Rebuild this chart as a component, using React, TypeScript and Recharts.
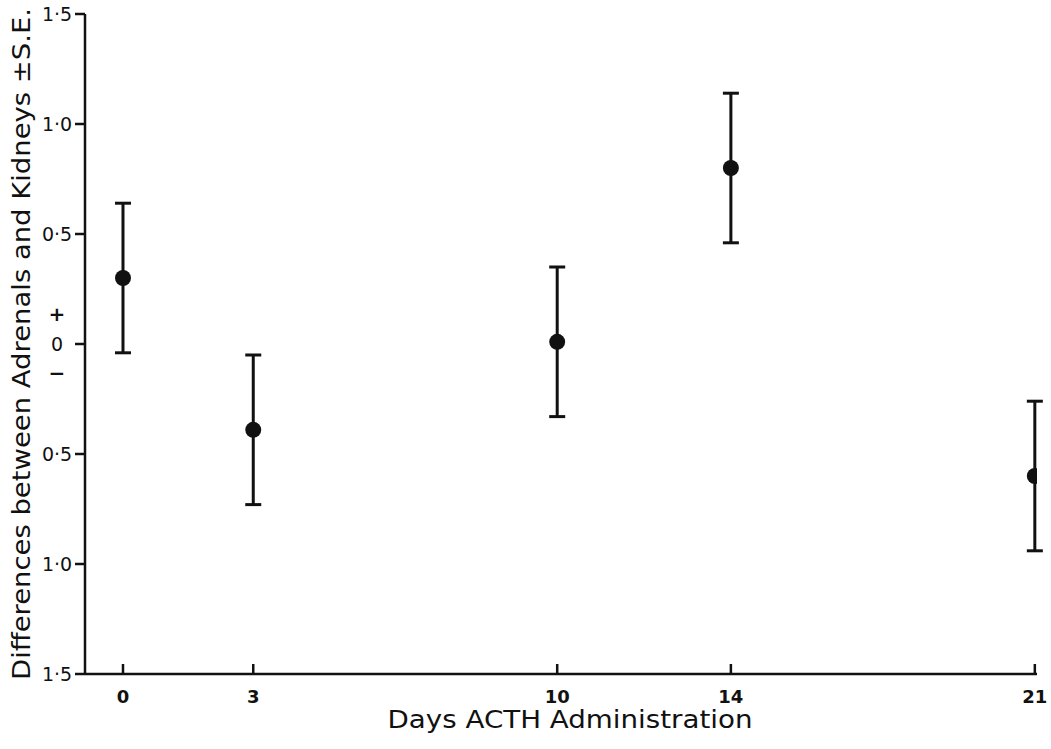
import React from "react";
import { ScatterChart, Scatter, XAxis, YAxis, ErrorBar } from "recharts";

const days = [0, 3, 10, 14, 21];
const means = [0.3, -0.39, 0.01, 0.8, -0.6];
const stdErrors = [0.34, 0.34, 0.34, 0.34, 0.34];
const xTicks = [0, 3, 10, 14, 21];
const yTicks = [-1.5, -1, -0.5, 0, 0.5, 1, 1.5];
const xTitle = "Days ACTH Administration";
const yTitle = "Differences between Adrenals and Kidneys \u00B1S.E.";

const data = days.map((d, i) => ({ day: d, diff: means[i], se: stdErrors[i] }));

const FONT = "'DejaVu Sans', sans-serif";
const INK = "#111";

const fmtY = (v: number) => (v === 0 ? "0" : Math.abs(v).toFixed(1).replace(".", "\u00B7"));

const XTick = (props: any) => {
  const { x, y, payload } = props;
  return (
    <g>
      <line x1={x} x2={x} y1={y} y2={y - 10} stroke={INK} strokeWidth={2.5} />
      <text x={x} y={y + 22} textAnchor="middle" dominantBaseline="central" fontFamily={FONT} fontSize={18} fontWeight="bold" fill={INK}>
        {String(payload.value)}
      </text>
    </g>
  );
};

const YTick = (props: any) => {
  const { x, y, payload } = props;
  const v = payload.value as number;
  return (
    <g>
      <line x1={x - 10} x2={x} y1={y} y2={y} stroke={INK} strokeWidth={2.5} />
      <text x={57} y={y} textAnchor="middle" dominantBaseline="central" fontFamily={FONT} fontSize={19} fill={INK}>
        {fmtY(v)}
      </text>
      {v === 0 && (
        <>
          <text x={57} y={y - 30} textAnchor="middle" dominantBaseline="central" fontFamily={FONT} fontSize={20} fontWeight="bold" fill={INK}>+</text>
          <text x={57} y={y + 29} textAnchor="middle" dominantBaseline="central" fontFamily={FONT} fontSize={20} fontWeight="bold" fill={INK}>{"\u2212"}</text>
        </>
      )}
    </g>
  );
};

const YTitle = () => (
  <text x={21} y={344} transform="rotate(-90 21 344)" textAnchor="middle" dominantBaseline="central" fontFamily={FONT} fontSize={25} fill={INK} textLength={672} lengthAdjust="spacingAndGlyphs">
    {yTitle}
  </text>
);

const XTitle = () => (
  <text x={570} y={719} textAnchor="middle" dominantBaseline="central" fontFamily={FONT} fontSize={25} fill={INK} textLength={365} lengthAdjust="spacingAndGlyphs">
    {xTitle}
  </text>
);

const Dot = (props: any) => {
  const { cx, cy } = props;
  return <circle cx={cx} cy={cy} r={8} fill={INK} />;
};

export default function App() {
  return (
    <div style={{ position: "absolute", left: 0, top: 0, width: 1051, height: 749, background: "#fff" }}>
      <ScatterChart width={1051} height={749} margin={{ top: 14, right: 14, bottom: 0, left: 0 }}>
        <XAxis
          type="number"
          dataKey="day"
          domain={[-0.875, 21.05]}
          ticks={xTicks}
          allowDataOverflow
          height={75}
          tickSize={0}
          tickMargin={0}
          tickLine={false}
          axisLine={{ stroke: INK, strokeWidth: 2.5 }}
          tick={XTick}
          interval={0}
          label={{ content: XTitle }}
        />
        <YAxis
          type="number"
          dataKey="diff"
          domain={[-1.5, 1.5]}
          ticks={yTicks}
          allowDataOverflow
          width={85}
          tickSize={0}
          tickMargin={0}
          tickLine={false}
          axisLine={{ stroke: INK, strokeWidth: 2.5 }}
          tick={YTick}
          interval={0}
          label={{ content: YTitle }}
        />
        <Scatter data={data} shape={Dot} isAnimationActive={false}>
          <ErrorBar dataKey="se" direction="y" width={8} stroke={INK} strokeWidth={3} />
        </Scatter>
      </ScatterChart>
    </div>
  );
}
